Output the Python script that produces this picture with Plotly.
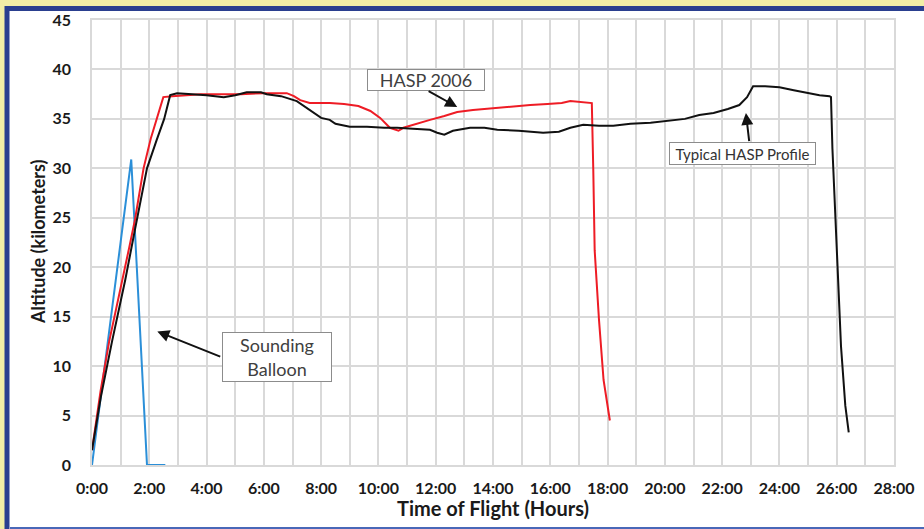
import plotly.graph_objects as go

# ---- data (hours, km) ----
balloon_t = [0, 1.37, 1.92, 2.56]
balloon_km = [0, 30.9, 0, 0]

hasp2006_t = [0, 0.3, 0.6, 1.08, 1.3, 1.5, 1.8, 2.05, 2.27, 2.49, 2.8, 3.3, 3.8, 4.5, 5.2, 6.0,
              6.5, 6.8, 7.05, 7.27, 7.6, 8.0, 8.3, 8.8, 9.3, 9.72, 10.06, 10.4, 10.7, 10.87,
              11.3, 11.8, 12.3, 12.75, 13.3, 14.0, 14.6, 15.3, 15.9, 16.4, 16.7, 17.1, 17.45,
              17.5, 17.55, 17.7, 17.86, 18.08]
hasp2006_km = [1.5, 7.5, 12.5, 18.8, 22.0, 24.8, 30.0, 33.0, 35.0, 37.2, 37.3, 37.4, 37.5, 37.5,
               37.5, 37.6, 37.6, 37.6, 37.3, 36.9, 36.6, 36.6, 36.6, 36.5, 36.3, 35.8, 35.1,
               34.1, 33.8, 34.1, 34.5, 34.9, 35.3, 35.7, 35.9, 36.1, 36.2, 36.4, 36.5, 36.6,
               36.8, 36.7, 36.6, 30.0, 21.7, 14.7, 8.6, 4.5]

typical_t = [0, 0.31, 0.7, 1.16, 1.5, 1.92, 2.25, 2.52, 2.73, 2.97, 3.5, 4.0, 4.6, 5.0, 5.4, 5.9,
             6.1, 6.6, 7.15, 7.6, 8.0, 8.3, 8.5, 9.0, 9.6, 10.2, 10.65, 11.2, 11.8, 12.05, 12.3,
             12.6, 13.2, 13.7, 14.15, 14.9, 15.75, 16.3, 16.7, 17.15, 17.7, 18.2, 18.8, 19.5,
             20.1, 20.7, 21.2, 21.7, 22.2, 22.6, 22.87, 23.08, 23.5, 24.0, 24.5, 25.0, 25.4,
             25.75, 25.8, 25.85, 25.95, 26.05, 26.15, 26.3, 26.42]
typical_km = [1.5, 6.9, 12.5, 18.7, 23.8, 30.0, 32.8, 35.0, 37.4, 37.6, 37.5, 37.4, 37.2, 37.4,
              37.7, 37.7, 37.5, 37.3, 36.8, 35.9, 35.1, 34.9, 34.5, 34.2, 34.2, 34.1, 34.1,
              34.0, 33.9, 33.6, 33.4, 33.8, 34.1, 34.1, 33.9, 33.8, 33.6, 33.7, 34.1, 34.4,
              34.3, 34.3, 34.5, 34.6, 34.8, 35.0, 35.4, 35.6, 36.0, 36.4, 37.2, 38.3, 38.3,
              38.2, 37.9, 37.6, 37.4, 37.3, 37.2, 32.0, 25.0, 18.0, 12.0, 6.0, 3.3]

x_tick_vals = list(range(0, 29, 2))
x_tick_text = ["0:00", "2:00", "4:00", "6:00", "8:00", "10:00", "12:00", "14:00", "16:00",
               "18:00", "20:00", "22:00", "24:00", "26:00", "28:00"]
y_tick_vals = [0, 5, 10, 15, 20, 25, 30, 35, 40, 45]

# ---- figure ----
W, H = 924, 529
ML, MR, MT, MB = 92, 30, 20, 64
pw, ph = W - ML - MR, H - MT - MB

def px(xp):
    return (xp - ML) / pw

def py(yp):
    return (H - MB - yp) / ph

fig = go.Figure()
fig.add_trace(go.Scatter(x=balloon_t, y=balloon_km, mode="lines",
                         line=dict(color="#2b8fd8", width=2), name="Sounding Balloon"))
fig.add_trace(go.Scatter(x=hasp2006_t, y=hasp2006_km, mode="lines",
                         line=dict(color="#ee1c25", width=2), name="HASP 2006"))
fig.add_trace(go.Scatter(x=typical_t, y=typical_km, mode="lines",
                         line=dict(color="#111111", width=2), name="Typical HASP Profile"))

grid = "#d9d9d9"
tickfont = dict(family="Lato", size=16, color="#1a1a1a", weight="bold")

fig.update_layout(
    width=W, height=H,
    margin=dict(l=ML, r=MR, t=MT, b=MB, autoexpand=False),
    paper_bgcolor="#f2eea6",
    plot_bgcolor="white",
    showlegend=False,
    xaxis=dict(range=[0, 28], tickvals=x_tick_vals, ticktext=x_tick_text, automargin=False,
               showgrid=True, gridcolor=grid, gridwidth=1.5,
               minor=dict(dtick=1, showgrid=True, gridcolor=grid, gridwidth=1.5),
               zeroline=False, showline=True, linecolor=grid, linewidth=1.5, mirror=True,
               tickfont=tickfont, ticks="", ticklabelstandoff=8),
    yaxis=dict(range=[0, 45], tickvals=y_tick_vals, automargin=False,
               showgrid=True, gridcolor=grid, gridwidth=1.5,
               zeroline=False, showline=True, linecolor=grid, linewidth=1.5, mirror=True,
               tickfont=tickfont, ticks="", ticklabelstandoff=16),
)

# white panel with blue frame (top/left dark, thin lighter line at bottom)
fig.add_shape(type="rect", xref="paper", yref="paper", layer="below",
              x0=px(7), x1=px(1100), y0=py(540), y1=py(8.5),
              fillcolor="white", line=dict(color="#2a3f8f", width=5))
fig.add_shape(type="line", xref="paper", yref="paper", layer="below",
              x0=px(10), x1=px(1100), y0=py(528), y1=py(528),
              line=dict(color="#4a68b8", width=2))

# axis titles
fig.add_annotation(x=px(493), y=py(508), xref="paper", yref="paper", showarrow=False,
                   xanchor="center", yanchor="middle",
                   text="Time of Flight (Hours)",
                   font=dict(family="Lato", size=20, color="#1a1a1a", weight="bold"))
fig.add_annotation(x=px(38), y=py(242), xref="paper", yref="paper", showarrow=False,
                   xanchor="center", yanchor="middle",
                   text="Altitude (kilometers)", textangle=-90,
                   font=dict(family="Lato", size=18, color="#1a1a1a", weight="bold"))

# annotation boxes
boxfont = dict(family="Lato", size=18, color="#404040")
fig.add_annotation(x=11.67, y=38.9, xref="x", yref="y", text="HASP 2006", showarrow=False,
                   font=boxfont, bgcolor="white", bordercolor="#8c8c8c", borderwidth=1,
                   width=114, height=18)
fig.add_annotation(x=22.7, y=31.45, xref="x", yref="y", text="Typical HASP Profile",
                   showarrow=False, font=dict(family="Lato", size=15, color="#333333"),
                   bgcolor="white", bordercolor="#8c8c8c", borderwidth=1, width=143, height=19)
fig.add_annotation(x=6.46, y=10.95, xref="x", yref="y", text="Sounding<br>Balloon",
                   showarrow=False, font=boxfont,
                   bgcolor="white", bordercolor="#8c8c8c",
                   borderwidth=1, width=106, height=46)

# arrows
arrow = dict(showarrow=True, arrowhead=2, arrowsize=1.2, arrowwidth=2, arrowcolor="#111111",
             text="", xref="x", yref="y", axref="x", ayref="y")
fig.add_annotation(x=12.75, y=36.2, ax=11.7, ay=37.9, **arrow)
fig.add_annotation(x=22.83, y=35.6, ax=22.95, ay=32.6, **arrow)
fig.add_annotation(x=2.28, y=13.5, ax=4.53, ay=10.9, **arrow)

fig.write_html("out.html", config={"displayModeBar": False},
               post_script="document.body.style.margin='0';")
